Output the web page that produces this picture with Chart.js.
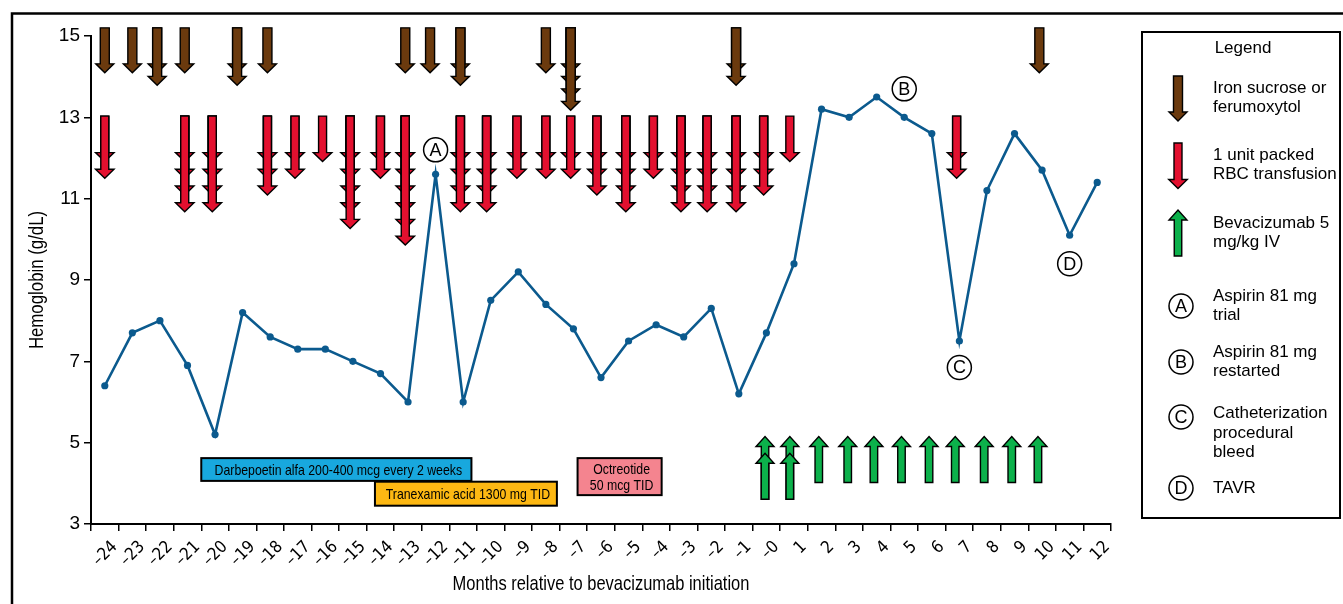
<!DOCTYPE html>
<html>
<head>
<meta charset="utf-8">
<script src="https://cdn.jsdelivr.net/npm/chart.js@4.4.1/dist/chart.umd.min.js"></script>
<style>
html, body { margin: 0; padding: 0; background: #fff; }
#wrap { width: 1343px; height: 604px; }
</style>
</head>
<body>
<div id="wrap"><canvas id="hbChart" width="1343" height="604"></canvas></div>
<script>
// months relative to bevacizumab start ("–0" is the month of the first dose)
const monthLabels = ['–24','–23','–22','–21','–20','–19','–18','–17','–16','–15','–14','–13','–12','–11','–10','–9','–8','–7','–6','–5','–4','–3','–2','–1','–0','1','2','3','4','5','6','7','8','9','10','11','12']
const hemoglobin = [6.4,7.7,8.0,6.9,5.2,8.2,7.6,7.3,7.3,7.0,6.7,6.0,11.6,6.0,8.5,9.2,8.4,7.8,6.6,7.5,7.9,7.6,8.3,6.2,7.7,9.4,13.2,13.0,13.5,13.0,12.6,7.5,11.2,12.6,11.7,10.1,11.4]

// iron infusions (month, number of doses)
const ironMonths = [-24,-23,-22.1,-21.1,-19.2,-18.1,-13.1,-12.2,-11.1,-8,-7.1,-1.1,9.9]
const ironDoses = [1,1,2,1,2,1,1,1,2,1,4,2,1]

// packed RBC transfusions (month, units)
const rbcMonths = [-24,-21.1,-20.1,-18.1,-17.1,-16.1,-15.1,-14,-13.1,-11.1,-10.15,-9.05,-8,-7.1,-6.15,-5.1,-4.1,-3.1,-2.15,-1.1,-0.1,0.85,6.9]
const rbcUnits = [2,4,4,3,2,1,5,2,6,4,4,2,2,2,3,4,2,4,4,4,3,1,2]

// bevacizumab doses
const bevMonths = [-0.05,0.85,1.9,2.95,3.9,4.9,5.9,6.85,7.9,8.9,9.85]
const bevDoses = [2,2,1,1,1,1,1,1,1,1,1]

// drug courses
const drugNames = [['Darbepoetin alfa 200-400 mcg every 2 weeks'], ['Tranexamic acid 1300 mg TID'], ['Octreotide', '50 mcg TID']]
const drugStart = [-20.5,-14.2,-6.85]
const drugEnd = [-10.7,-7.6,-3.8]

// lettered events
const eventLetters = ['A','B','C','D']
const eventMonths = [-12,5,7,11]
const eventHb = [12.2,13.7,6.85,9.4]

const legendItems = [
    { icon: 'iron', lines: ['Iron sucrose or', 'ferumoxytol'] },
    { icon: 'rbc', lines: ['1 unit packed', 'RBC transfusion'] },
    { icon: 'bev', lines: ['Bevacizumab 5', 'mg/kg IV'] },
    { icon: 'A', lines: ['Aspirin 81 mg', 'trial'] },
    { icon: 'B', lines: ['Aspirin 81 mg', 'restarted'] },
    { icon: 'C', lines: ['Catheterization', 'procedural', 'bleed'] },
    { icon: 'D', lines: ['TAVR'] }
]

const LINE = '#0b5a8e'
const CONDENSED = "'DejaVu Sans Condensed', 'Liberation Sans', sans-serif"
const SANS = "'Liberation Sans', Arial, sans-serif"

const arrowStyles = {
    iron: { color: '#6b3a0e', anchor: 15.2, len: 45, step: 12.5, shaftW: 9, headW: 18, headH: 9, up: false },
    rbc:  { color: '#e3102f', anchor: 13.03, len: 45.5, step: 16.7, shaftW: 8, headW: 18.5, headH: 9, up: false },
    bev:  { color: '#0cb14b', anchor: 5.15, len: 46, step: 16.7, shaftW: 7.5, headW: 18, headH: 10, up: true }
}
const drugStyles = [
    { color: '#18a8de', top: 4.62, bottom: 4.06 },
    { color: '#fdb813', top: 4.04, bottom: 3.45 },
    { color: '#f4848f', top: 4.62, bottom: 3.71 }
]

function arrowPath(ctx, x, yBase, yTip, s) {
    const dir = yTip > yBase ? 1 : -1
    const neck = yTip - dir * s.headH
    ctx.beginPath()
    ctx.moveTo(x - s.shaftW / 2, yBase)
    ctx.lineTo(x + s.shaftW / 2, yBase)
    ctx.lineTo(x + s.shaftW / 2, neck)
    ctx.lineTo(x + s.headW / 2, neck)
    ctx.lineTo(x, yTip)
    ctx.lineTo(x - s.headW / 2, neck)
    ctx.lineTo(x - s.shaftW / 2, neck)
    ctx.closePath()
    ctx.fillStyle = s.color
    ctx.fill()
    ctx.lineWidth = 1.4
    ctx.strokeStyle = '#000'
    ctx.stroke()
}

function drawStack(ctx, x, y, n, s) {
    for (let k = 0; k < n; k++) {
        if (s.up) arrowPath(ctx, x, y + s.len + (n - 1) * s.step, y + k * s.step, s)
        else arrowPath(ctx, x, y, y + s.len + k * s.step, s)
    }
}

function circled(ctx, x, y, letter) {
    ctx.beginPath()
    ctx.arc(x, y, 12, 0, Math.PI * 2)
    ctx.fillStyle = '#fff'
    ctx.fill()
    ctx.lineWidth = 1.5
    ctx.strokeStyle = '#000'
    ctx.stroke()
    ctx.fillStyle = '#000'
    ctx.font = '18px ' + SANS
    ctx.textAlign = 'center'
    ctx.textBaseline = 'middle'
    ctx.fillText(letter, x, y + 1)
}

// helvetica-condensed look: regular sans squeezed horizontally
function narrowText(ctx, txt, x, y, size, squeeze, angle) {
    ctx.save()
    ctx.translate(x, y)
    if (angle) ctx.rotate(angle)
    ctx.scale(squeeze, 1)
    ctx.font = size + 'px ' + SANS
    ctx.fillStyle = '#000'
    ctx.textAlign = 'center'
    ctx.textBaseline = 'middle'
    ctx.fillText(txt, 0, 0)
    ctx.restore()
}

const overlays = {
    id: 'overlays',
    beforeDraw(chart) {
        const ctx = chart.ctx
        ctx.save()
        ctx.lineWidth = 2.5
        ctx.strokeStyle = '#000'
        ctx.strokeRect(12, 13.5, 1400, 700)
        ctx.restore()
    },
    beforeDatasetsDraw(chart) {
        const ctx = chart.ctx
        const xs = chart.scales.xm
        const ys = chart.scales.y
        ctx.save()
        drugNames.forEach((lines, i) => {
            const st = drugStyles[i]
            const l = xs.getPixelForValue(drugStart[i])
            const r = xs.getPixelForValue(drugEnd[i])
            const t = ys.getPixelForValue(st.top)
            const b = ys.getPixelForValue(st.bottom)
            ctx.fillStyle = st.color
            ctx.fillRect(l, t, r - l, b - t)
            ctx.lineWidth = 2
            ctx.strokeStyle = '#000'
            ctx.strokeRect(l, t, r - l, b - t)
            const lh = 16
            lines.forEach((txt, j) => {
                narrowText(ctx, txt, (l + r) / 2 + 2, (t + b) / 2 + (j - (lines.length - 1) / 2) * lh + 1, 15, 0.82)
            })
        })
        const groups = [[ironMonths, ironDoses, arrowStyles.iron], [rbcMonths, rbcUnits, arrowStyles.rbc], [bevMonths, bevDoses, arrowStyles.bev]]
        groups.forEach(([ms, ns, st]) => {
            ms.forEach((m, i) => drawStack(ctx, xs.getPixelForValue(m), ys.getPixelForValue(st.anchor), ns[i], st))
        })
        ctx.restore()
    },
    afterDatasetsDraw(chart) {
        const ctx = chart.ctx
        const xs = chart.scales.xm
        const ys = chart.scales.y
        ctx.save()
        eventLetters.forEach((c, i) => circled(ctx, xs.getPixelForValue(eventMonths[i]), ys.getPixelForValue(eventHb[i]), c))
        ctx.restore()
    },
    afterDraw(chart) {
        const ctx = chart.ctx
        const area = chart.chartArea
        // axis titles in a condensed face
        narrowText(ctx, 'Months relative to bevacizumab initiation', (area.left + area.right) / 2, 584, 21, 0.785)
        narrowText(ctx, 'Hemoglobin (g/dL)', 37, (area.top + area.bottom) / 2, 20, 0.84, -Math.PI / 2)

        ctx.save()
        ctx.lineWidth = 2
        ctx.strokeStyle = '#000'
        ctx.strokeRect(1142, 32, 198, 486)
        ctx.fillStyle = '#000'
        ctx.font = '17px ' + SANS
        ctx.textAlign = 'center'
        ctx.textBaseline = 'middle'
        ctx.fillText('Legend', 1243, 48)

        const rows = [98, 165, 233, 306, 362, 433, 488]
        const ix = 1178
        legendItems.forEach((it, i) => {
            const cy = rows[i]
            if (it.icon === 'iron') drawStack(ctx, ix, cy - 22, 1, arrowStyles.iron)
            else if (it.icon === 'rbc') drawStack(ctx, ix, cy - 22, 1, arrowStyles.rbc)
            else if (it.icon === 'bev') drawStack(ctx, ix, cy - 23, 1, arrowStyles.bev)
            else circled(ctx, ix + 3, it.lines.length === 3 ? cy - 16 : cy, it.icon)
            ctx.fillStyle = '#000'
            ctx.font = '17px ' + SANS
            ctx.textAlign = 'left'
            ctx.textBaseline = 'middle'
            const lh = 19.5
            it.lines.forEach((txt, j) => {
                ctx.fillText(txt, 1213, cy + (j - (it.lines.length - 1) / 2) * lh)
            })
        })
        ctx.restore()
    }
}

new Chart(document.getElementById('hbChart'), {
    type: 'line',
    data: {
        labels: monthLabels,
        datasets: [{
            data: hemoglobin,
            borderColor: LINE,
            backgroundColor: LINE,
            borderWidth: 2.6,
            pointRadius: 3.6,
            pointBackgroundColor: LINE,
            pointBorderWidth: 0,
            tension: 0,
            clip: false
        }]
    },
    options: {
        responsive: false,
        animation: false,
        layout: { padding: { left: 12, top: 36, right: 232, bottom: 0 } },
        plugins: { legend: { display: false }, tooltip: { enabled: false } },
        scales: {
            x: {
                type: 'category',
                offset: true,
                grid: { offset: true, drawOnChartArea: false, drawTicks: true, tickLength: 7, color: '#000', lineWidth: 1.5 },
                border: { color: '#000', width: 2 },
                ticks: { color: '#000', autoSkip: false, maxRotation: 45, minRotation: 45, padding: 6, labelOffset: 10, font: { family: CONDENSED, size: 17 } },
                title: { display: false },
                afterFit(scale) { scale.height = 80 }
            },
            xm: {
                type: 'linear',
                display: false,
                min: -24.5,
                max: 12.5
            },
            y: {
                min: 3,
                max: 15,
                ticks: { stepSize: 2, color: '#000', padding: 4, font: { family: SANS, size: 19 } },
                grid: { drawOnChartArea: false, drawTicks: true, tickLength: 7, color: '#000', lineWidth: 1.5 },
                border: { color: '#000', width: 2 },
                title: { display: false },
                afterFit(scale) { scale.width = 79 }
            }
        }
    },
    plugins: [overlays]
})
</script>
</body>
</html>
